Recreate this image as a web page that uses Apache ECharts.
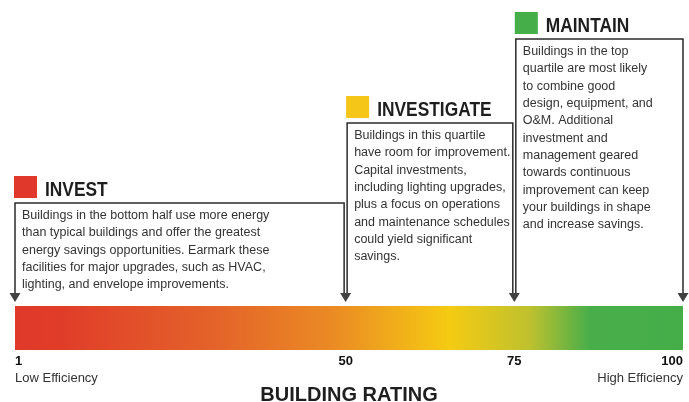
<!DOCTYPE html>
<html>
<head>
<meta charset="utf-8">
<script src="https://cdn.jsdelivr.net/npm/echarts@6/dist/echarts.min.js"></script>
<style>
html, body { margin: 0; padding: 0; background: #fff; }
#chart { width: 689px; height: 402px; }
</style>
</head>
<body>
<div id="chart"></div>
<script>
// rating scale
var ratingTicks = [1, 50, 75, 100];
var ratingEnds = ['Low Efficiency', 'High Efficiency'];
var axisTitle = 'BUILDING RATING';

// tiers along the scale
var tierNames = ['INVEST', 'INVESTIGATE', 'MAINTAIN'];
var tierFrom = [1, 50, 75];
var tierTo = [50, 75, 100];
var tierText = [
    'Buildings in the bottom half use more energy\nthan typical buildings and offer the greatest\nenergy savings opportunities. Earmark these\nfacilities for major upgrades, such as HVAC,\nlighting, and envelope improvements.',
    'Buildings in this quartile\nhave room for improvement.\nCapital investments,\nincluding lighting upgrades,\nplus a focus on operations\nand maintenance schedules\ncould yield significant\nsavings.',
    'Buildings in the top\nquartile are most likely\nto combine good\ndesign, equipment, and\nO&M. Additional\ninvestment and\nmanagement geared\ntowards continuous\nimprovement can keep\nyour buildings in shape\nand increase savings.'
];

// styling
var FONT = "'Liberation Sans', Arial, sans-serif";
var tierColors = ['#E0392B', '#F5C518', '#45AE49'];
var boxTop = [203, 123, 39];   // top edge of each callout box (px)
var barStops = [
    { offset: 0, color: '#E0392A' },
    { offset: 0.07, color: '#E03D29' },
    { offset: 0.3, color: '#E4632A' },
    { offset: 0.48, color: '#EB8C24' },
    { offset: 0.65, color: '#F5CB12' },
    { offset: 0.77, color: '#BFC12E' },
    { offset: 0.86, color: '#49AE4A' },
    { offset: 1, color: '#45AE49' }
];

var tierData = [];
for (var i = 0; i < tierNames.length; i++) {
    tierData.push([tierFrom[i], tierTo[i], i]);
}

var myChart = echarts.init(document.getElementById('chart'));

option = {
    animation: false,
    grid: { left: 15, right: 6, top: 306, height: 44, outerBoundsMode: 'none' },
    xAxis: {
        type: 'value',
        min: ratingTicks[0],
        max: ratingTicks[ratingTicks.length - 1],
        axisLine: { show: false },
        axisTick: { show: false },
        splitLine: { show: false },
        axisLabel: {
            customValues: ratingTicks,
            alignMinLabel: 'left',
            alignMaxLabel: 'right',
            margin: 3,
            formatter: function (v) {
                if (v === ratingTicks[0]) return '{n|' + v + '}\n{d|' + ratingEnds[0] + '}';
                if (v === ratingTicks[ratingTicks.length - 1]) return '{n|' + v + '}\n{d|' + ratingEnds[1] + '}';
                return '{n|' + v + '}';
            },
            rich: {
                n: { fontFamily: FONT, fontWeight: 'bold', fontSize: 13, lineHeight: 16, color: '#111' },
                d: { fontFamily: FONT, fontSize: 13, lineHeight: 19, color: '#333' }
            }
        },
        name: axisTitle,
        nameLocation: 'middle',
        nameGap: 28,
        nameTextStyle: { fontFamily: FONT, fontWeight: 'bold', fontSize: 20, color: '#1e1e1e' }
    },
    yAxis: { type: 'value', min: 0, max: 1, show: false },
    series: [
        {
            // gradient rating bar
            type: 'custom',
            silent: true,
            clip: false,
            data: [[ratingTicks[0], ratingTicks[ratingTicks.length - 1]]],
            renderItem: function (params, api) {
                var p0 = api.coord([api.value(0), 1]);
                var p1 = api.coord([api.value(1), 0]);
                return {
                    type: 'rect',
                    shape: { x: p0[0], y: p0[1], width: p1[0] - p0[0], height: p1[1] - p0[1] },
                    style: { fill: { type: 'linear', x: 0, y: 0, x2: 1, y2: 0, colorStops: barStops } }
                };
            }
        },
        {
            // callout boxes
            type: 'custom',
            silent: true,
            clip: false,
            data: tierData,
            renderItem: function (params, api) {
                var k = api.value(2);
                var last = tierNames.length - 1;
                var xl = api.coord([api.value(0), 1])[0] + (k > 0 ? 1.5 : 0);
                var xr = api.coord([api.value(1), 1])[0] - (k < last ? 1.5 : 0);
                var yBar = api.coord([api.value(0), 1])[1];
                var yEnd = yBar - 13;
                var top = boxTop[k];
                return {
                    type: 'group',
                    children: [
                        {
                            type: 'polyline',
                            shape: { points: [[xl, yEnd], [xl, top], [xr, top], [xr, yEnd]] },
                            style: { stroke: '#2b2b2b', lineWidth: 1.5, fill: 'none' }
                        },
                        {
                            type: 'rect',
                            shape: { x: xl - 1, y: top - 27, width: 23, height: 22 },
                            style: { fill: tierColors[k] }
                        },
                        {
                            type: 'text',
                            x: xl + 30,
                            y: top - 12,
                            scaleX: 0.89,
                            style: {
                                x: 0, y: 0,
                                text: tierNames[k],
                                fontFamily: FONT, fontWeight: 'bold', fontSize: 19.5,
                                fill: '#1e1e1e', verticalAlign: 'middle'
                            }
                        },
                        {
                            type: 'text',
                            style: {
                                x: xl + 7, y: top + 4,
                                text: tierText[k],
                                fontFamily: FONT, fontSize: 12.5, lineHeight: 17.3,
                                fill: '#333', verticalAlign: 'top'
                            }
                        }
                    ]
                };
            }
        },
        {
            // arrow markers at the key ratings
            type: 'scatter',
            silent: true,
            clip: false,
            symbol: 'triangle',
            symbolRotate: 180,
            symbolSize: [11, 9],
            symbolOffset: [0, -8.5],
            itemStyle: { color: '#111' },
            data: ratingTicks.map(function (v) { return [v, 1]; })
        }
    ]
};
myChart.setOption(option);
</script>
</body>
</html>
